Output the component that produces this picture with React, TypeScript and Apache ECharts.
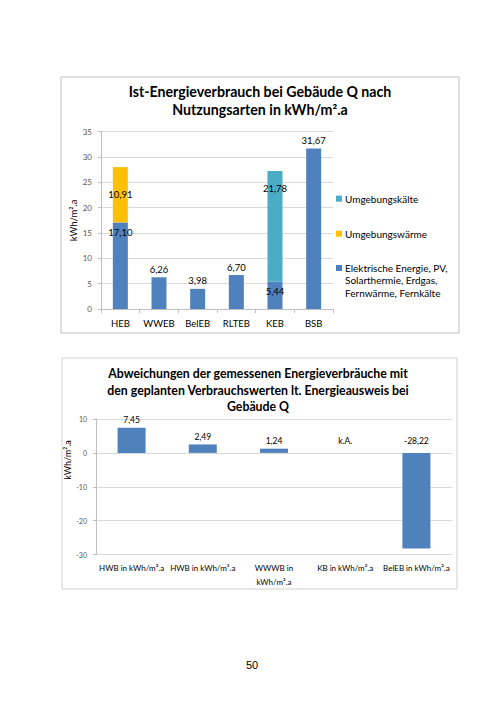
import React, { useEffect, useRef } from "react";
import * as echarts from "echarts";

const categories1 = ["HEB", "WWEB", "BelEB", "RLTEB", "KEB", "BSB"];
const elektrisch = [17.1, 6.26, 3.98, 6.7, 5.44, 31.67];
const umgebungswaerme = [10.91, null, null, null, null, null];
const umgebungskaelte = [null, null, null, null, 21.78, null];
const yTicks1 = { min: 0, max: 35, interval: 5 };

const categories2 = [
  "HWB in kWh/m².a",
  "HWB in kWh/m³.a",
  "WWWB in\nkWh/m².a",
  "KB in kWh/m².a",
  "BelEB in kWh/m².a",
];
const abweichung = [7.45, 2.49, 1.24, null, -28.22];
const yTicks2 = { min: -30, max: 10, interval: 10 };

const NAME_EL = "Elektrische Energie, PV, Solarthermie, Erdgas, Fernwärme, Fernkälte";
const NAME_UW = "Umgebungswärme";
const NAME_UK = "Umgebungskälte";
const EL_LINE1 = "Elektrische Energie, PV,";
const EL_REST = "Solarthermie, Erdgas,\nFernwärme, Fernkälte";

const FONT = "Lato, 'Open Sans', sans-serif";
const BLUE = "#4F81BD";
const YELLOW = "#FFC000";
const CYAN = "#4BACC6";
const GRID = "#D9D9D9";
const AXIS = "#BFBFBF";

const fmt = (v: number) => v.toFixed(2).replace(".", ",");

export default function App() {
  const ref = useRef<HTMLDivElement>(null);
  useEffect(() => {
    if (!ref.current) return;
    const chart = echarts.init(ref.current, undefined, { renderer: "svg" });

    const labelBase = { show: true, color: "#000", fontFamily: FONT, fontSize: 9.5 };

    const elData = elektrisch.map((v, i) => {
      const stacked = umgebungswaerme[i] != null || umgebungskaelte[i] != null;
      return {
        value: v,
        label: stacked
          ? { ...labelBase, position: "insideTop", distance: 5, formatter: () => fmt(v) }
          : { ...labelBase, position: "top", distance: 3, formatter: () => fmt(v) },
      };
    });
    const uwData = umgebungswaerme.map((v) =>
      v == null ? null : { value: v, label: { ...labelBase, position: "inside", formatter: () => fmt(v) } }
    );
    const ukData = umgebungskaelte.map((v) =>
      v == null ? null : { value: v, label: { ...labelBase, position: "insideTop", distance: 12, formatter: () => fmt(v) } }
    );

    const devLabel = { show: true, position: "top", color: "#000", fontFamily: FONT, fontSize: 8.5 };
    const devData = abweichung.map((v) => {
      if (v == null) {
        return { value: 0, label: { ...devLabel, distance: 7, formatter: "k.A." } };
      }
      return { value: v, label: { ...devLabel, distance: v < 0 ? 7 : 3, formatter: fmt(v) } };
    });

    const legendBase = {
      left: 336,
      padding: 0,
      itemWidth: 6,
      itemHeight: 6,
      icon: "rect",
      textStyle: { fontFamily: FONT, fontSize: 10, color: "#000", padding: [0, 0, 0, -2] },
    };

    const option: any = {
      animation: false,
      backgroundColor: "#fff",
      textStyle: { fontFamily: FONT },
      title: [
        {
          text: "Ist-Energieverbrauch bei Gebäude Q nach\nNutzungsarten in kWh/m².a",
          left: 260,
          top: 82,
          textAlign: "center",
          padding: 0,
          textStyle: { fontFamily: FONT, fontWeight: "bold", fontSize: 14.2, lineHeight: 18, color: "#000" },
        },
        {
          text: "Abweichungen der gemessenen Energieverbräuche mit\nden geplanten Verbrauchswerten lt. Energieausweis bei\nGebäude Q",
          left: 258,
          top: 365,
          textAlign: "center",
          padding: 0,
          textStyle: { fontFamily: FONT, fontWeight: "bold", fontSize: 12.3, lineHeight: 16.7, color: "#000" },
        },
        {
          text: "50",
          left: 252,
          top: 659,
          textAlign: "center",
          padding: 0,
          textStyle: { fontFamily: "'Liberation Sans', Arial, sans-serif", fontWeight: "normal", fontSize: 11, color: "#000" },
        },
      ],
      legend: [
        { ...legendBase, data: [NAME_UK], top: 193.7 },
        { ...legendBase, data: [NAME_UW], top: 228.7 },
        { ...legendBase, data: [NAME_EL], top: 263, formatter: () => EL_LINE1 },
      ],
      grid: [
        { left: 101, top: 131.7, width: 232, height: 177.3 },
        { left: 96, top: 419, width: 356, height: 135.5 },
      ],
      xAxis: [
        {
          type: "category",
          gridIndex: 0,
          data: categories1,
          axisLine: { lineStyle: { color: AXIS } },
          axisTick: { show: true, length: 4, lineStyle: { color: AXIS } },
          axisLabel: { color: "#000", fontFamily: FONT, fontSize: 9.5, margin: 9, interval: 0 },
        },
        {
          type: "category",
          gridIndex: 1,
          data: categories2,
          axisLine: { show: false },
          axisTick: { show: false },
          axisLabel: {
            color: "#000",
            fontFamily: FONT,
            fontSize: 8,
            margin: 7,
            lineHeight: 13.5,
            interval: 0,
          },
        },
      ],
      yAxis: [
        {
          type: "value",
          gridIndex: 0,
          ...yTicks1,
          name: "kWh/m².a",
          nameLocation: "middle",
          nameGap: 22,
          nameTextStyle: { fontFamily: FONT, fontSize: 9.5, color: "#000" },
          axisLine: { show: true, lineStyle: { color: AXIS } },
          axisTick: { show: true, length: 3, lineStyle: { color: AXIS } },
          axisLabel: { color: "#595959", fontFamily: FONT, fontSize: 8, margin: 9 },
          splitLine: { lineStyle: { color: GRID } },
        },
        {
          type: "value",
          gridIndex: 1,
          ...yTicks2,
          axisLine: { show: true, lineStyle: { color: AXIS } },
          axisTick: { show: true, length: 3, lineStyle: { color: AXIS } },
          axisLabel: { color: "#595959", fontFamily: FONT, fontSize: 7, margin: 9 },
          splitLine: { lineStyle: { color: GRID } },
        },
      ],
      graphic: [
        {
          type: "rect",
          shape: { x: 61, y: 77, width: 398, height: 256 },
          style: { fill: "none", stroke: "#BFBFBF", lineWidth: 1 },
          z: -1,
        },
        {
          type: "rect",
          shape: { x: 62, y: 358, width: 395, height: 231 },
          style: { fill: "none", stroke: "#D0D0D0", lineWidth: 1 },
          z: -1,
        },
        {
          type: "text",
          x: 345,
          y: 273.5,
          style: { text: EL_REST, fontFamily: FONT, fontSize: 10, lineHeight: 13, fill: "#000", align: "left", verticalAlign: "top" },
        },
        {
          type: "text",
          x: 67,
          y: 460,
          rotation: Math.PI / 2,
          style: { text: "kWh/m².a", fontFamily: FONT, fontSize: 9, fill: "#000", align: "center", verticalAlign: "middle" },
        },
      ],
      series: [
        {
          name: NAME_EL,
          type: "bar",
          stack: "a",
          xAxisIndex: 0,
          yAxisIndex: 0,
          barWidth: 15,
          itemStyle: { color: BLUE },
          data: elData,
        },
        {
          name: NAME_UW,
          type: "bar",
          stack: "a",
          xAxisIndex: 0,
          yAxisIndex: 0,
          barWidth: 15,
          itemStyle: { color: YELLOW },
          data: uwData,
        },
        {
          name: NAME_UK,
          type: "bar",
          stack: "a",
          xAxisIndex: 0,
          yAxisIndex: 0,
          barWidth: 15,
          itemStyle: { color: CYAN },
          data: ukData,
        },
        {
          name: "Abweichung",
          type: "bar",
          xAxisIndex: 1,
          yAxisIndex: 1,
          barWidth: 28,
          itemStyle: { color: BLUE },
          data: devData,
        },
      ],
    };
    chart.setOption(option);
    return () => chart.dispose();
  }, []);
  return (
    <div
      ref={ref}
      style={{ position: "fixed", left: 0, top: 0, width: 504, height: 713, background: "#fff" }}
    />
  );
}
